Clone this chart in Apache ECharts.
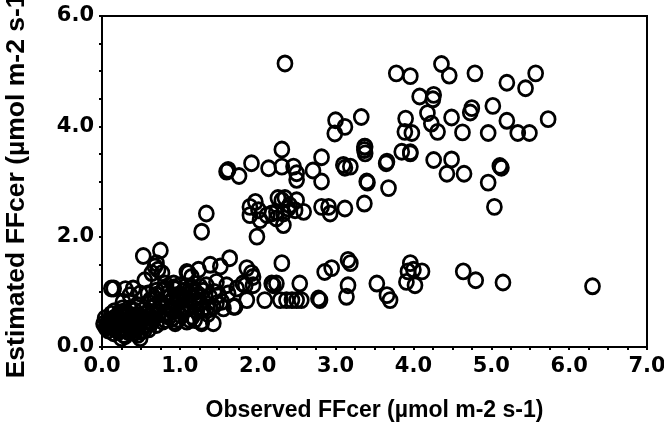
<!DOCTYPE html>
<html>
<head>
<meta charset="utf-8">
<script src="https://cdn.jsdelivr.net/npm/echarts@6/dist/echarts.min.js"></script>
<style>
html,body{margin:0;padding:0;background:#fff;}
#chart{width:664px;height:437px;}
</style>
</head>
<body>
<div id="chart"></div>
<script>
// Upper band (estimated ~3.8-5.2)
var upperX = [2.35,3.78,3.96,4.36,4.46,4.79,5.20,5.44,5.57,4.08,4.26,4.25,4.18,4.23,4.31,4.49,4.73,4.75,5.02,5.20,5.73,3.33,3.90,3.89,3.98,4.63,4.96,5.34,5.49,3.00,3.12,2.99];
var upperY = [5.14,4.96,4.91,5.13,4.92,4.96,4.79,4.69,4.96,4.54,4.57,4.49,4.24,4.05,3.90,4.16,4.25,4.33,4.37,4.10,4.13,4.17,4.14,3.90,3.88,3.89,3.88,3.88,3.88,4.11,3.99,3.87];

// Middle band (estimated ~2.0-3.7)
var midX = [2.31,1.92,1.62,1.60,1.76,2.14,2.31,2.46,2.50,2.50,2.82,2.71,2.82,3.10,3.12,3.37,3.37,3.38,3.40,3.66,3.68,3.85,3.96,3.37,3.12,2.91,2.93,2.82,1.34,1.28,1.99,1.90,1.97,2.01,1.90,2.03,2.18,2.26,2.31,2.35,2.24,2.33,2.39,2.48,2.59,2.33,2.50,2.41,2.24,2.12,3.38,3.41,3.65,4.26,4.49,4.43,4.65,4.96,5.11,5.13,5.04,3.19,3.96];
var midY = [3.58,3.33,3.21,3.18,3.10,3.24,3.27,3.27,3.15,3.03,3.44,3.20,3.00,3.30,3.25,3.63,3.57,3.51,3.00,3.36,2.88,3.54,3.51,2.60,2.51,2.54,2.42,2.54,2.42,2.09,2.00,2.54,2.63,2.48,2.39,2.30,2.42,2.70,2.66,2.70,2.45,2.42,2.51,2.48,2.45,2.21,2.66,2.57,2.33,2.39,3.63,2.98,3.33,3.39,3.40,3.14,3.14,2.98,3.28,3.25,2.54,3.27,3.53];

// Lower band (estimated ~0.8-1.6, observed > 1.5)
var lowX = [2.31,1.86,1.92,1.64,2.54,2.18,2.24,1.86,2.09,2.29,2.37,2.44,2.50,2.56,2.78,2.80,2.86,2.95,3.16,3.19,3.16,3.14,3.53,3.66,3.70,3.96,3.93,4.00,3.91,4.02,4.11,4.64,4.80,5.15,6.30,1.94,1.84,1.94,2.20,1.62,1.71,1.56,1.47,1.69,1.54,1.73,1.81,1.60];
var lowY = [1.52,1.43,1.34,1.61,1.15,1.15,1.15,0.85,0.85,0.85,0.85,0.85,0.85,0.85,0.88,0.85,1.36,1.43,1.58,1.52,1.12,0.91,1.15,0.94,0.85,1.52,1.37,1.40,1.18,1.12,1.37,1.37,1.21,1.17,1.10,1.27,1.12,1.12,1.12,0.97,0.73,0.70,0.79,0.73,0.82,1.06,1.15,1.12];

// Cluster near the origin
var clusterX = [0.75,0.53,1.39,1.52,1.09,1.15,0.70,0.72,0.64,0.55,0.15,0.30,0.40,0.36,0.27,0.81,0.92,1.00,1.13,1.26,1.34,1.47,1.43,1.43,1.28,1.13,0.94,0.81,1.00,0.90,0.83,1.13,1.26,1.30,1.04,0.74,0.66,0.53,0.68,0.59,0.49,0.45,0.10,0.04,0.19,0.27,0.32,0.40,0.19,0.36,0.25,0.49,0.53,0.59,0.45,0.27,0.15,1.28,1.24,1.28,0.12,0.94,1.09,1.19,0.68,0.77,1.11,1.24,
  0.62,0.70,0.78,0.85,0.93,0.98,1.05,1.12,1.20,1.18,1.08,0.95,0.88,0.76,0.66,0.58,0.72,0.84,0.96,1.10,1.22,1.35,1.38,1.30,1.44,1.50,0.50,0.42,0.35,0.30,0.22,0.18,0.12,0.06,0.38,0.46,0.56,0.64,0.33,0.42,0.20,0.28,0.60,0.70,0.78,1.00,1.16,0.90,0.25,0.15,0.02,0.08,0.08,0.15,0.30,0.22,0.35,0.12,0.40,0.50];
var clusterY = [1.75,1.65,1.49,1.46,1.36,1.27,1.52,1.40,1.34,1.21,1.06,1.05,1.06,0.94,0.82,1.15,1.15,1.12,1.06,1.09,1.12,1.18,0.73,0.43,0.43,0.49,0.43,0.49,0.82,0.85,0.73,0.76,0.79,0.67,0.64,0.64,0.52,0.67,0.88,0.97,0.97,0.76,0.49,0.52,0.55,0.64,0.49,0.55,0.40,0.37,0.16,0.16,0.37,0.46,0.43,0.31,0.34,0.67,0.85,0.46,1.06,0.46,0.46,0.49,1.46,1.34,1.34,1.40,
  0.85,0.95,1.02,0.98,1.05,0.95,1.02,0.95,1.00,0.88,0.86,0.78,0.70,0.80,0.72,0.62,0.58,0.60,0.66,0.70,0.66,0.72,0.92,1.02,1.00,0.94,0.55,0.66,0.58,0.48,0.45,0.36,0.42,0.38,0.40,0.48,0.40,0.45,0.28,0.26,0.30,0.22,0.32,0.40,0.46,0.58,0.55,0.52,0.58,0.52,0.42,0.45,0.30,0.25,0.40,0.62,0.70,0.60,0.30,0.28];

// Dense core of the cluster
var coreX = [0.05,0.10,0.14,0.20,0.24,0.28,0.32,0.36,0.44,0.48,0.52,0.56,0.62,0.16,0.26,0.34,0.42,0.22,0.30,0.38,0.46,0.54,0.64,0.74,0.82,0.88,0.96,1.04,1.12,1.20,0.80,0.92,1.02,1.16,0.70,0.86,0.98,1.08,1.24,1.36];
var coreY = [0.35,0.40,0.48,0.50,0.40,0.55,0.62,0.50,0.58,0.38,0.50,0.60,0.55,0.65,0.70,0.45,0.35,0.28,0.20,0.30,0.22,0.30,0.62,0.72,0.62,0.92,0.88,0.92,0.85,0.80,1.05,1.08,0.72,1.08,1.02,0.55,0.50,1.10,0.95,0.60];

var xTicks = [0,1,2,3,4,5,6,7];
var yTicks = [0,2,4,6];

function pairs(xs, ys){ var out=[]; for (var i=0;i<xs.length;i++){ out.push([xs[i], ys[i]]); } return out; }
var allData = [].concat(pairs(coreX, coreY), pairs(clusterX, clusterY), pairs(lowX, lowY), pairs(midX, midY), pairs(upperX, upperY));

var chart = echarts.init(document.getElementById('chart'), null, {renderer:'canvas'});
var tickFont = {fontFamily:'DejaVu Sans', fontWeight:'bold', fontSize:21, color:'#000'};
chart.setOption({
  animation:false,
  backgroundColor:'#fff',
  grid:{left:102, top:16, right:17, bottom:90, containLabel:false, outerBoundsMode:'none', show:true, borderColor:'#000', borderWidth:2, backgroundColor:'transparent'},
  xAxis:{
    type:'value', min:xTicks[0], max:xTicks[xTicks.length-1], interval:1,
    axisLine:{show:true, onZero:false, lineStyle:{color:'#000', width:2}},
    axisTick:{show:true, length:3, lineStyle:{color:'#000', width:2}},
    minorTick:{show:true, splitNumber:4, length:3, lineStyle:{color:'#000', width:2}},
    splitLine:{show:false},
    axisLabel:Object.assign({margin:9, formatter:function(v){return v.toFixed(1);}}, tickFont),
    name:'Observed FFcer (µmol m-2 s-1)', nameLocation:'middle', nameGap:52,
    nameTextStyle:{fontFamily:'Liberation Sans', fontWeight:'bold', fontSize:23, color:'#000'}
  },
  yAxis:{
    type:'value', min:yTicks[0], max:yTicks[yTicks.length-1], interval:2,
    axisLine:{show:true, onZero:false, lineStyle:{color:'#000', width:2}},
    axisTick:{show:true, length:3, lineStyle:{color:'#000', width:2}},
    minorTick:{show:true, splitNumber:4, length:3, lineStyle:{color:'#000', width:2}},
    splitLine:{show:false},
    axisLabel:Object.assign({margin:8, formatter:function(v){return v.toFixed(1);}}, tickFont),
    name:'Estimated FFcer (µmol m-2 s-1)', nameLocation:'middle', nameGap:72,
    nameTextStyle:{fontFamily:'Liberation Sans', fontWeight:'bold', fontSize:26.5, color:'#000'}
  },
  series:[{
    type:'scatter', data:allData, symbol:'circle', symbolSize:[14,15],
    itemStyle:{color:'transparent', borderColor:'#000', borderWidth:2.8, opacity:1},
    emphasis:{disabled:true}
  }]
});
</script>
</body>
</html>
